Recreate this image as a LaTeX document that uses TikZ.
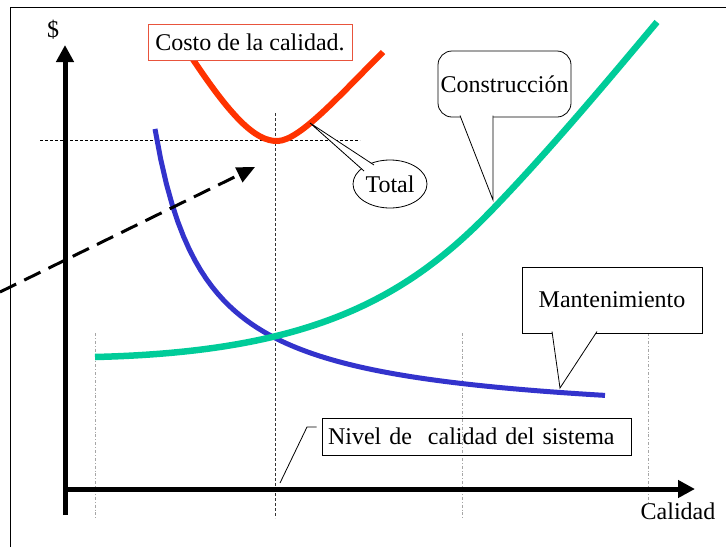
\documentclass[tikz,border=0pt]{standalone}
\usepackage{fontspec}
\setmainfont{Liberation Serif}
\usetikzlibrary{arrows.meta,shapes,positioning,calc}
\definecolor{costored}{RGB}{255,51,0}
\definecolor{boxred}{RGB}{232,84,60}
\definecolor{constgreen}{RGB}{0,204,153}
\definecolor{mantblue}{RGB}{51,51,204}

\begin{document}
\begin{tikzpicture}
[x=1pt,y=-1pt,
    every node/.style={font=\fontsize{24}{28}\selectfont},
callbox/.style={draw=black,line width=.8pt,fill=white,inner sep=0pt},
tail/.style={draw=black,line width=.8pt,fill=white},
curve/.style={line width=5pt},
axis/.style={line width=5pt,-{Triangle[length=17pt,width=17pt]}},
guide/.style={gray!70,line width=.8pt,dash dot},
level/.style={black,line width=.7pt,dash pattern=on 3pt off 2pt}]
\useasboundingbox (0,0) rectangle (726,547);
%%%%%%%%%%
%% frame and axes
\draw[line width=1pt] (10,547) -- (10,7) -- (726,7);
\coordinate (ybot) at (65,515);
\coordinate (ytop) at (65,45);
\coordinate (xbeg) at (63,489);
\coordinate (xtop) at (695,489);
\node (dollar) at (53,30) {\$};
\node (calidad) at (678,511) {Calidad};
%%
%% guide lines
\draw[guide] (95,333) -- (95,518);
\draw[guide] (462,333) -- (462,518);
\draw[guide] (648,333) -- (648,503);
\draw[level,black!80] (275,113) -- (275,518);
\draw[level] (40,140) -- (360,140);
%%
%% curves
\draw[curve,mantblue] plot[domain=155:605,samples=80] (\x,{425-14804/(\x-105)});
\draw[curve,constgreen,line width=6.5pt] (95,357) .. controls (300,352) and
(400,305) .. (490,212) .. controls (550,150) and (610,78) .. (657,22);
\draw[curve,costored,line width=6pt] (192,58) .. controls (230,115) and (255,142)
.. (278,141) .. controls (300,140) and (340,95) .. (383,52);
%%
\draw[axis] (ybot) -- (ytop);
\draw[axis] (xbeg) -- (xtop);
%% dashed arrow
\coordinate (dbeg) at (0,292);
\coordinate (dend) at (255,167);
\draw[line width=3pt,dash pattern=on 18pt off 9pt,-{Triangle[length=18pt,width=16pt]}]
(dbeg) -- (dend);
%%
%% labels and callouts
\node[callbox,draw=boxred,minimum width=204pt,minimum height=36pt] (costo) at
(250,42) {Costo de la calidad.};
%%
\node[callbox,rounded corners=14pt,minimum width=133pt,minimum height=66pt]
(constr) at (504.5,84) {Construcción};
\coordinate (ctip) at (493,200);
\filldraw[tail] (460,115.5) -- (ctip) -- (493,115.5);
%%
\node[callbox,ellipse,minimum width=74pt,minimum height=48pt] (total) at
(390,184) {Total};
\coordinate (ttip) at (310,123);
\filldraw[tail] (364,171) -- (ttip) -- (374,165);
%%
\node[callbox,minimum width=180pt,minimum height=66pt] (mant) at (612,300)
{Mantenimiento};
\coordinate (mtip) at (560,388);
\filldraw[tail] (552,331.5) -- (mtip) -- (597,331.5);
%%
\node[callbox,fill=none,inner xsep=6pt,text width=297pt,align=left,
minimum height=37pt] (nivel) at (476.5,436.5) {Nivel de\ \ calidad del sistema};
\coordinate (ntip) at (280,483);
\draw[line width=.8pt] (ntip) -- (307,427) -- ($(nivel.west)+(-5,-9.5)$);
\end{tikzpicture}
\end{document}
